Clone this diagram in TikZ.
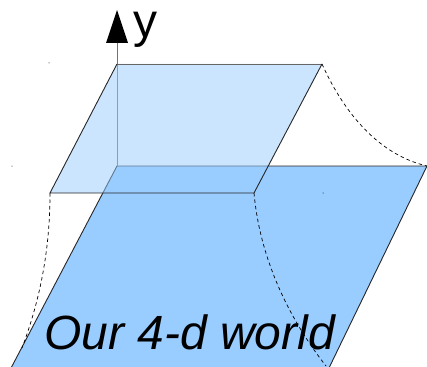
\documentclass[tikz,border=0pt]{standalone}
\usepackage{fontspec}
\setmainfont{Liberation Sans}
\definecolor{planeblue}{HTML}{99CCFF}
\begin{document}
\begin{tikzpicture}[x=1pt,y=-1pt,
  plane/.style={fill=planeblue},
  edge/.style={draw=black!85,line width=0.9pt},
  softedge/.style={draw=black!60,line width=0.9pt},
  guide/.style={draw=black,dash pattern=on 3.5pt off 3pt,line width=0.7pt},
  axisline/.style={draw=black!55,line width=1pt},
  headfill/.style={fill=black},
  dot/.style={fill=black,circle,inner sep=0pt,minimum size=1pt}]
\useasboundingbox (0,0) rectangle (427,366);
% lower plane
\begin{scope}
\clip (0,0) rectangle (427,366);
\coordinate (la) at (117,166);
\coordinate (lb) at (427,166);
\coordinate (lc) at (328,370);
\coordinate (ld) at (10,370);
\fill[plane] (la) -- (lb) -- (lc) -- (ld) -- cycle;
\draw[edge] (ld) -- (la) -- (lb) -- (lc);
\end{scope}
% y axis
\coordinate (o) at (117,166);
\coordinate (ybase) at (117,43);
\coordinate (ytip) at (117,10);
\draw[axisline] (o) -- (ybase);
\fill[headfill] (106,43) -- (ytip) -- (128,43) -- cycle;
\node[anchor=base west,inner sep=0pt,font=\fontsize{48}{48}\selectfont] (ylab) at (133,38) {y};
% upper plane
\coordinate (ua) at (117,64);
\coordinate (ub) at (322,64);
\coordinate (uc) at (254,193);
\coordinate (ud) at (50,193);
\fill[plane,fill opacity=0.5] (ua) -- (ub) -- (uc) -- (ud) -- cycle;
\draw[softedge] (ua) -- (ub);
\draw[edge] (ub) -- (uc) -- (ud) -- (ua);
% dashed guide curves
\coordinate (e1) at (22,348);
\coordinate (e2) at (326,366);
\coordinate (e3) at (427,166);
\draw[guide] (ud) .. controls (50,250) and (40,300) .. (e1);
\draw[guide] (uc) .. controls (260,260) and (290,320) .. (e2);
\draw[guide] (ub) .. controls (345,115) and (380,155) .. (e3);
% tiny stray dots
\node[dot] (d1) at (49,63) {};
\node[dot] (d2) at (12,166) {};
\node[dot] (d3) at (323,193) {};
% label
\node[anchor=base west,inner sep=0pt,font=\itshape\fontsize{48}{48}\selectfont] (world) at (44,349) {Our 4-d world};
\end{tikzpicture}
\end{document}
